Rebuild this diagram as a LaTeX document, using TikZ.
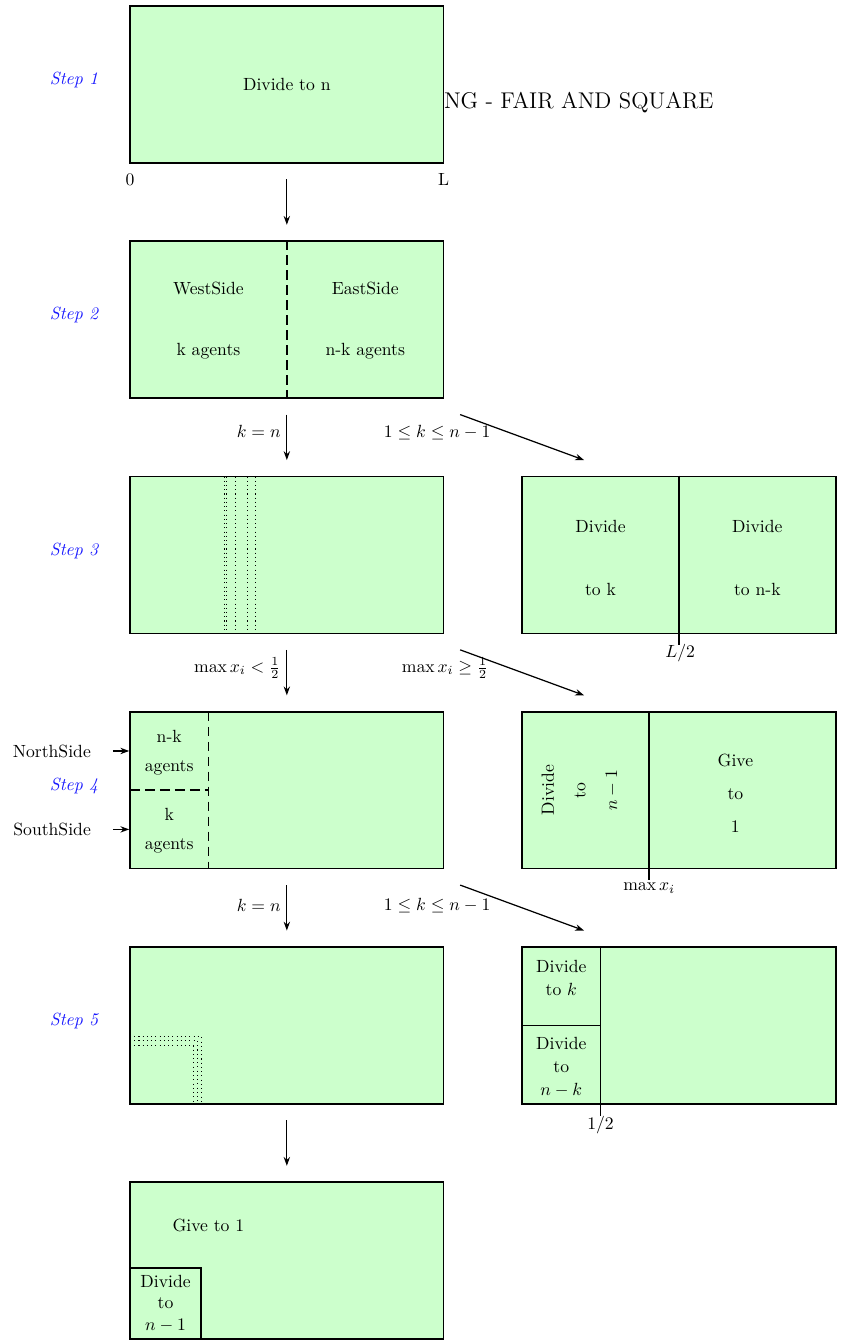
\documentclass[tikz,border=0pt]{standalone}
\usetikzlibrary{arrows.meta}

\begin{document}
\begin{tikzpicture}[x=1.5625cm,y=1.5625cm,
  panel/.style={draw, fill=green!20, line width=0.9pt, minimum width=6.25cm, minimum height=3.125cm, inner sep=0pt},
  steplabel/.style={text=blue!90, font=\itshape},
  arr/.style={-{Stealth[length=5pt,width=3.6pt]}, line width=0.7pt},
  flow/.style={arr, shorten <=0.3125cm, shorten >=0.3125cm},
  divider/.style={line width=0.8pt, dash pattern=on 5.5pt off 3pt},
  cut/.style={line width=0.8pt},
  trace/.style={line width=0.5pt, dash pattern=on 0.6pt off 1.8pt},
  txt/.style={align=center},
]
\useasboundingbox (-1.658,0.077) rectangle (9.082,-17.05);

% running header of the page, partly hidden behind the first panel
\node[anchor=base west, inner sep=0pt, font=\fontsize{12.9}{15}\selectfont] (hdr) at (4,-1.31) {NG - FAIR AND SQUARE};

% panels
\node[panel] (b1) at (2,-1) {};
\node[panel] (b2) at (2,-4) {};
\node[panel] (b3) at (2,-7) {};
\node[panel] (b4) at (2,-10) {};
\node[panel] (b5) at (2,-13) {};
\node[panel] (b6) at (2,-16) {};
\node[panel] (r3) at (7,-7) {};
\node[panel] (r4) at (7,-10) {};
\node[panel] (r5) at (7,-13) {};

% step labels
\foreach \i in {1,...,5}
  \node[steplabel] (s\i) at (-0.714,{-0.945-3*(\i-1)}) {Step \i};

% step 1
\node (t1) at (2,-1) {Divide to n};
\node (zero) at (0,-2.21) {0};
\node (ell) at (4,-2.21) {L};

% vertical flow
\draw[flow] (b1.south) -- (b2.north);
\draw[flow] (b2.south) -- (b3.north);
\draw[flow] (b3.south) -- (b4.north);
\draw[flow] (b4.south) -- (b5.north);
\draw[flow] (b5.south) -- (b6.north);

% diagonal branches
\draw[arr] ([shift={(0.2,-0.2)}]b2.south east) -- ([shift={(0.8,0.2)}]r3.north west);
\draw[arr] ([shift={(0.2,-0.2)}]b3.south east) -- ([shift={(0.8,0.2)}]r4.north west);
\draw[arr] ([shift={(0.2,-0.2)}]b4.south east) -- ([shift={(0.8,0.2)}]r5.north west);

% step 2
\draw[divider] (b2.north) -- (b2.south);
\node[txt] (west) at (1,-4.01) {WestSide\\[22.6pt]k agents};
\node[txt] (east) at (3,-4.01) {EastSide\\[22.6pt]n-k agents};
\node[anchor=east] (c2a) at (2,-5.43) {$k=n$};
\node (c2b) at (3.916,-5.434) {$1\le k\le n-1$};

% step 3
\foreach \x in {1.2,1.225,1.35,1.5,1.6}
  \draw[trace] (\x,-6) -- (\x,-8);
\draw[cut] (r3.north) -- (7,-8.15);
\node (half) at (7.015,-8.25) {$L/2$};
\node[txt] (r3a) at (6,-7.035) {Divide\\[23.7pt]to k};
\node[txt] (r3b) at (8,-7.035) {Divide\\[23.7pt]to n-k};
\node[anchor=east] (c3a) at (2,-8.44) {$\max x_i<\frac12$};
\node (c3b) at (4.018,-8.44) {$\max x_i\ge\frac12$};

% step 4
\draw[divider] (1,-9) -- (1,-11);
\draw[divider] (0,-10) -- (1,-10);
\node[txt] (nk) at (0.5,-9.525) {n-k\\[4.4pt]agents};
\node[txt] (kk) at (0.5,-10.515) {k\\[4.4pt]agents};
\node[anchor=east] (north) at (-0.42,-9.5) {NorthSide};
\node[anchor=east] (south) at (-0.42,-10.5) {SouthSide};
\draw[arr, shorten <=0.3125cm] (north.east) -- (north.east -| b4.west);
\draw[arr, shorten <=0.3125cm] (south.east) -- (south.east -| b4.west);
\draw[cut] (6.62,-9) -- (6.62,-11.15);
\node (mx) at (6.62,-11.25) {$\max x_i$};
\node[txt, rotate=90] (r4a) at (5.74,-10.0) {Divide\\[6pt]to\\[6pt]$n-1$};
\node[txt] (r4b) at (7.72,-10.04) {Give\\[6.7pt]to\\[6.7pt]1};
\node[anchor=east] (c4a) at (2,-11.467) {$k=n$};
\node (c4b) at (3.916,-11.467) {$1\le k\le n-1$};

% step 5
\draw[trace] (0,-13.14) -- (0.906,-13.14) -- (0.906,-14);
\draw[trace] (0,-13.19) -- (0.855,-13.19) -- (0.855,-14);
\draw[trace] (0,-13.25) -- (0.804,-13.25) -- (0.804,-14);
\draw[cut] (6,-12) -- (6,-14.15);
\draw[cut] (5,-13) -- (6,-13);
\node (h2) at (6,-14.27) {$1/2$};
\node[txt] (r5a) at (5.5,-12.395) {Divide\\[1.5pt]to $k$};
\node[txt] (r5b) at (5.5,-13.53) {Divide\\[1.2pt]to\\[1.2pt]$n-k$};

% final panel
\node (give) at (1,-15.55) {Give to 1};
\node[draw, fill=green!20, line width=0.9pt, minimum width=1.416cm, minimum height=1.416cm,
      inner sep=0pt, anchor=south west, align=center] (b6s) at (b6.south west) {Divide\\to\\$n-1$};
\end{tikzpicture}
\end{document}
